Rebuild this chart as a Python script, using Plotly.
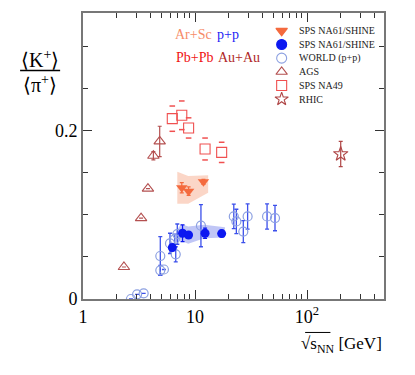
import plotly.graph_objects as go
import numpy as np

# ---------------- data ----------------
# AGS (Au+Au)
ags_x = [2.32, 3.3, 3.8, 4.25, 4.84]
ags_y = [0.038, 0.096, 0.131, 0.170, 0.187]
ags_e = [0.0, 0.0, 0.0, 0.005, 0.018]

# SPS NA49 (Pb+Pb)
na49_x = [6.27, 7.62, 8.77, 12.3, 17.3]
na49_y = [0.214, 0.218, 0.203, 0.178, 0.174]
na49_e = [0.015, 0.017, 0.012, 0.013, 0.012]

# RHIC (Au+Au)
rhic_x = [200.0]
rhic_y = [0.172]
rhic_e = [0.015]

# NA61/SHINE Ar+Sc
arsc_x = [7.62, 8.77, 11.9]
arsc_y = [0.132, 0.128, 0.139]
arsc_e = [0.006, 0.005, 0.003]
arsc_band_x = [6.95, 8.4, 8.7, 13.1]
arsc_band_hi = [0.151, 0.146, 0.146, 0.147]
arsc_band_lo = [0.113, 0.113, 0.113, 0.126]

# NA61/SHINE p+p
pp_x = [6.27, 7.74, 8.76, 12.3, 17.3]
pp_y = [0.061, 0.078, 0.076, 0.078, 0.0776]
pp_e = [0.004, 0.010, 0.004, 0.006, 0.004]
pp_band_x = [6.8, 7.5, 8.7, 12.1, 18.5]
pp_band_hi = [0.080, 0.089, 0.086, 0.088, 0.085]
pp_band_lo = [0.068, 0.069, 0.0655, 0.072, 0.073]

# WORLD p+p
world_x = [2.68, 3.04, 3.48, 4.9, 4.9, 5.28, 5.98, 6.6, 6.73, 6.95, 11.3,
           22.2, 23.4, 27.0, 29.5, 44.0, 51.8]
world_y = [0.0, 0.0055, 0.0067, 0.051, 0.034, 0.035, 0.066, 0.071, 0.053, 0.077, 0.087,
           0.098, 0.092, 0.080, 0.098, 0.098, 0.096]
world_e = [0.0, 0.0, 0.0, 0.023, 0.006, 0.0, 0.012, 0.006, 0.009, 0.012, 0.025,
           0.0145, 0.0145, 0.013, 0.015, 0.015, 0.015]

legend_labels = ["SPS NA61/SHINE", "SPS NA61/SHINE", "WORLD (p+p)", "AGS", "SPS NA49", "RHIC"]

x_major = [1, 10, 100]
x_ticktext = ["1", "10", "10<sup>2</sup>"]
y_major = [0, 0.2]
y_ticktext = ["0", "0.2"]

# ---------------- colours ----------------
C_ARSC = "rgb(244,106,62)"
C_PP = "rgb(12,24,240)"
C_WORLD = "rgb(140,160,225)"
C_WORLD_ERR = "rgb(60,80,235)"
C_AGS = "rgb(180,80,80)"
C_NA49 = "rgb(240,80,80)"
C_RHIC = "rgb(175,70,70)"
SERIF = "Liberation Serif"

fig = go.Figure()

# bands
fig.add_trace(go.Scatter(x=arsc_band_x + arsc_band_x[::-1], y=arsc_band_hi + arsc_band_lo[::-1],
                         fill="toself", fillcolor="rgba(250,200,180,0.75)", line=dict(width=0),
                         mode="lines", hoverinfo="skip", showlegend=False))
fig.add_trace(go.Scatter(x=pp_band_x + pp_band_x[::-1], y=pp_band_hi + pp_band_lo[::-1],
                         fill="toself", fillcolor="rgba(150,160,240,0.6)", line=dict(width=0),
                         mode="lines", hoverinfo="skip", showlegend=False))

# WORLD
fig.add_trace(go.Scatter(x=world_x, y=world_y, mode="markers",
                         error_y=dict(type="data", array=world_e, color=C_WORLD_ERR, thickness=1.3, width=2),
                         marker=dict(symbol="circle-open", size=9, color=C_WORLD, line=dict(width=1.2)),
                         showlegend=False))
# AGS
fig.add_trace(go.Scatter(x=ags_x, y=ags_y, mode="markers",
                         error_y=dict(type="data", array=ags_e, color=C_AGS, thickness=1.2, width=2),
                         marker=dict(symbol="triangle-up-open", size=10, color=C_AGS, line=dict(width=1.1)),
                         showlegend=False))
# NA49 with bracket-like dashes
na49_top = [y + e for y, e in zip(na49_y, na49_e)]
na49_bot = [y - e for y, e in zip(na49_y, na49_e)]
fig.add_trace(go.Scatter(x=na49_x + na49_x, y=na49_top + na49_bot, mode="markers",
                         marker=dict(symbol="line-ew-open", size=4, color=C_NA49, line=dict(width=1.5, color=C_NA49)),
                         showlegend=False, hoverinfo="skip"))
fig.add_trace(go.Scatter(x=na49_x, y=na49_y, mode="markers",
                         marker=dict(symbol="square-open", size=10, color=C_NA49, line=dict(width=1.1)),
                         showlegend=False))
# RHIC
fig.add_trace(go.Scatter(x=rhic_x, y=rhic_y, mode="markers",
                         error_y=dict(type="data", array=rhic_e, color=C_RHIC, thickness=1.2, width=2),
                         marker=dict(symbol="star-open", size=11, color=C_RHIC, line=dict(width=1.1)),
                         showlegend=False))
# NA61 Ar+Sc
fig.add_trace(go.Scatter(x=arsc_x, y=arsc_y, mode="markers",
                         error_y=dict(type="data", array=arsc_e, color=C_ARSC, thickness=1.2, width=2),
                         marker=dict(symbol="triangle-down", size=10, color=C_ARSC),
                         showlegend=False))
# NA61 p+p
fig.add_trace(go.Scatter(x=pp_x, y=pp_y, mode="markers",
                         error_y=dict(type="data", array=pp_e, color=C_PP, thickness=1.2, width=2),
                         marker=dict(symbol="circle", size=9, color=C_PP),
                         showlegend=False))

# ---------------- manual legend (overlay axes) ----------------
leg_syms = [("triangle-down", C_ARSC), ("circle", C_PP), ("circle-open", C_WORLD),
            ("triangle-up-open", C_AGS), ("square-open", C_NA49), ("star-open", C_RHIC)]
leg_x0 = 0.660
leg_y = [0.9375 - i * 0.0477 for i in range(len(legend_labels))]
for (sym, col), yy in zip(leg_syms, leg_y):
    fig.add_trace(go.Scatter(x=[leg_x0], y=[yy], xaxis="x2", yaxis="y2", mode="markers",
                             marker=dict(symbol=sym, size=10, color=col, line=dict(width=1.1, color=col)),
                             showlegend=False, hoverinfo="skip"))
for lab, yy in zip(legend_labels, leg_y):
    fig.add_annotation(x=0.71, y=yy, xref="paper", yref="paper", text=lab, showarrow=False,
                       xanchor="left", yanchor="middle", font=dict(family=SERIF, size=10, color="#222"))

# system labels
fig.add_annotation(x=0.30, y=0.9236, xref="paper", yref="paper", text="Ar+Sc", showarrow=False,
                   xanchor="left", yanchor="middle", font=dict(family=SERIF, size=14, color="rgb(246,140,105)"))
fig.add_annotation(x=0.4385, y=0.9236, xref="paper", yref="paper", text="p+p", showarrow=False,
                   xanchor="left", yanchor="middle", font=dict(family=SERIF, size=14, color="rgb(30,30,245)"))
fig.add_annotation(x=0.302, y=0.845, xref="paper", yref="paper", text="Pb+Pb", showarrow=False,
                   xanchor="left", yanchor="middle", font=dict(family=SERIF, size=14, color="rgb(240,20,20)"))
fig.add_annotation(x=0.442, y=0.845, xref="paper", yref="paper", text="Au+Au", showarrow=False,
                   xanchor="left", yanchor="middle", font=dict(family=SERIF, size=14, color="rgb(175,40,40)"))

# y title as a fraction
fig.add_annotation(x=-0.143, y=0.838, xref="paper", yref="paper", text="⟨K<sup>+</sup>⟩", showarrow=False,
                   xanchor="center", yanchor="middle", font=dict(family=SERIF, size=20, color="black"))
fig.add_annotation(x=-0.143, y=0.753, xref="paper", yref="paper", text="⟨π<sup>+</sup>⟩", showarrow=False,
                   xanchor="center", yanchor="middle", font=dict(family=SERIF, size=20, color="black"))
fig.add_shape(type="line", xref="paper", yref="paper", x0=-0.209, x1=-0.076, y0=0.7986, y1=0.7986,
              line=dict(color="black", width=1.5))

# x title with radical overline
fig.add_annotation(x=1.0, y=-0.16, xref="paper", yref="paper",
                   text="√s<sub>NN</sub> [GeV]",
                   showarrow=False, xanchor="right", yanchor="middle",
                   font=dict(family=SERIF, size=17, color="black"))
fig.add_shape(type="line", xref="paper", yref="paper", x0=0.738, x1=0.822, y0=-0.117, y1=-0.117,
              line=dict(color="black", width=1))

x_minor = [m * d for d in [1, 10, 100] for m in range(2, 10) if m * d < 490]
y_minor = [0.05, 0.1, 0.15, 0.25, 0.3]

fig.update_layout(
    width=415, height=375,
    margin=dict(l=83, r=31, t=11, b=76),
    paper_bgcolor="white", plot_bgcolor="white",
    showlegend=False,
    xaxis=dict(type="log", range=[0, np.log10(487)], tickvals=x_major, ticktext=x_ticktext,
               ticks="inside", ticklen=9, tickwidth=1, tickcolor="#333",
               minor=dict(tickvals=x_minor, ticks="inside", ticklen=5, tickwidth=1, tickcolor="#333"),
               showline=True, linecolor="#777", linewidth=2, mirror="allticks",
               showgrid=False, zeroline=False,
               tickfont=dict(family=SERIF, size=18, color="black")),
    yaxis=dict(range=[0, 0.3394], tickvals=y_major, ticktext=y_ticktext,
               ticks="inside", ticklen=9, tickwidth=1, tickcolor="#333",
               minor=dict(tickvals=y_minor, ticks="inside", ticklen=5, tickwidth=1, tickcolor="#333"),
               showline=True, linecolor="#777", linewidth=2, mirror="allticks",
               showgrid=False, zeroline=False,
               tickfont=dict(family=SERIF, size=18, color="black")),
    xaxis2=dict(range=[0, 1], overlaying="x", anchor="y2", visible=False),
    yaxis2=dict(range=[0, 1], overlaying="y", anchor="x2", visible=False),
)

fig.write_html("out.html", config={"displayModeBar": False},
               post_script="document.body.style.margin='0';")
